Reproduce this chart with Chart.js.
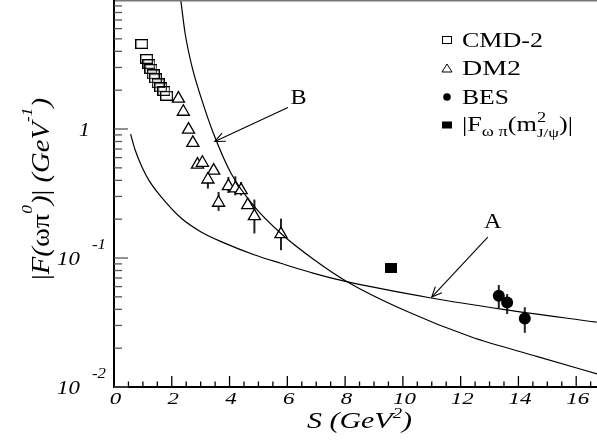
<!DOCTYPE html>
<html><head><meta charset="utf-8">
<script src="https://cdn.jsdelivr.net/npm/chart.js@4.4.1/dist/chart.umd.min.js"></script>
<style>html,body{margin:0;padding:0;background:#fff;overflow:hidden}#wrap{width:597px;height:443px;position:relative}</style>
</head><body><div id="wrap"><canvas id="c"></canvas></div>
<script>
// ---- data ----
const cmd2X = [0.96, 1.13, 1.21, 1.28, 1.36, 1.44, 1.53, 1.62, 1.73, 1.82];
const cmd2Y = [4.56, 3.49, 3.18, 2.92, 2.65, 2.47, 2.26, 2.10, 1.97, 1.81];

const dm2X  = [2.23, 2.40, 2.58, 2.73, 2.89, 3.06, 3.45, 3.25, 3.62, 3.96, 4.20, 4.40, 4.63, 4.86, 5.78];
const dm2Y  = [1.72, 1.36, 0.989, 0.781, 0.530, 0.547, 0.476, 0.406, 0.268, 0.361, 0.346, 0.336, 0.257, 0.211, 0.153];
const dm2Lo = [null, null, null, null, null, null, null, 0.345, 0.232, 0.319, 0.306, 0.305, 0.247, 0.155, 0.115];
const dm2Hi = [null, null, null, null, null, null, null, 0.46, 0.325, 0.425, 0.43, 0.388, 0.290, 0.284, 0.202];

const besX  = [13.32, 13.61, 14.22];
const besY  = [0.0509, 0.0452, 0.0340];
const besLo = [0.0408, 0.0368, 0.0263];
const besHi = [0.0618, 0.0525, 0.0415];

const jpsiX = [9.58];
const jpsiY = [0.0832];

const curveBX = [2.31, 2.46, 2.70, 3.04, 3.44, 4.05, 4.86, 5.78, 6.94, 8.07, 10.03, 12.35, 14.66, 16.74];
const curveBY = [10, 5.55, 3.04, 1.68, 0.926, 0.454, 0.250, 0.155, 0.0965, 0.0655, 0.0395, 0.0245, 0.0172, 0.0126];

const curveAX = [0.575, 0.72, 0.98, 1.21, 1.62, 2.31, 3.00, 3.81, 4.85, 5.77, 6.92, 8.05, 10.93, 13.47, 16.71];
const curveAY = [0.914, 0.70, 0.50, 0.40, 0.30, 0.205, 0.160, 0.131, 0.106, 0.091, 0.076, 0.0655, 0.0492, 0.0400, 0.0318];

const arrowA = [[12.94, 0.145], [11.00, 0.0498]];
const arrowB = [[6.02, 1.469], [3.49, 0.801]];
const labelA = [13.11, 0.1706];
const labelB = [6.39, 1.556];

const xMajorTicks = [0, 2, 4, 6, 8, 10, 12, 14, 16];
const xTickLabels = ['0', '2', '4', '6', '8', '10', '12', '14', '16'];
const xMinorTicks = [0.5,1,1.5,2.5,3,3.5,4.5,5,5.5,6.5,7,7.5,8.5,9,9.5,10.5,11,11.5,12.5,13,13.5,14.5,15,15.5,16.5];
const yMajorTicks = [0.01, 0.1, 1];
const yTickBase = ['10', '10', '1'];
const yTickExp  = ['-2', '-1', ''];
const yDecades = [0.01, 0.1, 1];
const yMinorMult = [2, 3, 4, 5, 6, 7, 8, 9];

const legendNames = ['CMD-2', 'DM2', 'BES'];

// ---- helpers ----
const pts = (xs, ys) => xs.map((x, i) => ({x: x, y: ys[i]}));
const SERIF = '"Liberation Serif", "Times New Roman", serif';
function fontOf(r, base) {
  return (r.it ? 'italic ' : '') + (r.size || base) + 'px ' + SERIF;
}
function drawRuns(ctx, runs, x, y, opt) {
  ctx.save();
  ctx.translate(x, y);
  if (opt.rotate) ctx.rotate(opt.rotate);
  const base = opt.size;
  let total = 0;
  const ws = runs.map(r => { ctx.font = fontOf(r, base); const w = ctx.measureText(r.t).width; if (!r.stay) total += w; return w; });
  const sx = opt.width ? opt.width / total : (opt.sx || 1);
  ctx.scale(sx, opt.sy || 1);
  let cx = opt.align === 'center' ? -total / 2 : 0;
  ctx.fillStyle = '#000';
  ctx.textBaseline = 'alphabetic';
  ctx.textAlign = 'left';
  runs.forEach((r, i) => { ctx.font = fontOf(r, base); ctx.fillText(r.t, cx, r.dy || 0); if (!r.stay) cx += ws[i]; });
  ctx.restore();
}
function makeRect(w, h, filled, lw) {
  const c = document.createElement('canvas');
  c.width = w; c.height = h;
  const g = c.getContext('2d');
  if (filled) { g.fillStyle = '#000'; g.fillRect(0, 0, w, h); }
  else { g.strokeStyle = '#000'; g.lineWidth = lw; g.strokeRect(lw / 2, lw / 2, w - lw, h - lw); }
  return c;
}
const openSq = makeRect(13, 10, false, 1.3);
const fillSq = makeRect(12, 10, true, 0);

function arrow(ctx, x0, y0, x1, y1) {
  ctx.beginPath(); ctx.moveTo(x0, y0); ctx.lineTo(x1, y1); ctx.stroke();
  const a = Math.atan2(y0 - y1, x0 - x1);
  const L = 11, s = 0.42;
  ctx.beginPath();
  ctx.moveTo(x1 + L * Math.cos(a + s), y1 + L * Math.sin(a + s));
  ctx.lineTo(x1, y1);
  ctx.lineTo(x1 + L * Math.cos(a - s), y1 + L * Math.sin(a - s));
  ctx.stroke();
}

const decor = {
  id: 'decor',
  beforeDatasetsDraw(chart) {
    const {ctx, scales: {x, y}} = chart;
    ctx.save();
    ctx.strokeStyle = '#222'; ctx.lineWidth = 2;
    const bars = (xs, lo, hi) => xs.forEach((v, i) => {
      if (lo[i] == null) return;
      const px = x.getPixelForValue(v);
      ctx.beginPath(); ctx.moveTo(px, y.getPixelForValue(hi[i])); ctx.lineTo(px, y.getPixelForValue(lo[i])); ctx.stroke();
    });
    bars(dm2X, dm2Lo, dm2Hi);
    bars(besX, besLo, besHi);
    ctx.restore();
  },
  afterDatasetsDraw(chart) {
    const {ctx, chartArea: a, scales: {x, y}} = chart;
    ctx.save();
    // frame
    ctx.strokeStyle = '#777'; ctx.lineWidth = 1.5;
    ctx.beginPath(); ctx.moveTo(a.left, a.top + 0.7); ctx.lineTo(a.right, a.top + 0.7); ctx.stroke();
    ctx.strokeStyle = '#000'; ctx.lineWidth = 2;
    ctx.beginPath(); ctx.moveTo(a.left, a.top); ctx.lineTo(a.left, a.bottom); ctx.lineTo(a.right, a.bottom); ctx.stroke();
    // x ticks (inside)
    ctx.lineWidth = 1.3;
    xMajorTicks.forEach(v => { const px = x.getPixelForValue(v); ctx.beginPath(); ctx.moveTo(px, a.bottom); ctx.lineTo(px, a.bottom - 11); ctx.stroke(); });
    xMinorTicks.forEach(v => { const px = x.getPixelForValue(v); ctx.beginPath(); ctx.moveTo(px, a.bottom); ctx.lineTo(px, a.bottom - 5.5); ctx.stroke(); });
    // y ticks (inside)
    ctx.strokeStyle = '#555';
    yMajorTicks.forEach(v => { const py = y.getPixelForValue(v); ctx.beginPath(); ctx.moveTo(a.left, py); ctx.lineTo(a.left + 14, py); ctx.stroke(); });
    yDecades.forEach(d => yMinorMult.forEach(m => { const py = y.getPixelForValue(d * m); ctx.beginPath(); ctx.moveTo(a.left, py); ctx.lineTo(a.left + 8, py); ctx.stroke(); }));
    // x tick labels
    xMajorTicks.forEach((v, i) => {
      drawRuns(ctx, [{t: xTickLabels[i], it: true}], x.getPixelForValue(v) + 1.5, a.bottom + 17, {size: 17, sx: 1.35, align: 'center'});
    });
    // y tick labels
    yMajorTicks.forEach((v, i) => {
      const py = y.getPixelForValue(v);
      if (yTickExp[i]) {
        drawRuns(ctx, [{t: yTickBase[i], it: true}], 57, py + 7, {size: 19, sx: 1.2});
        drawRuns(ctx, [{t: yTickExp[i], it: true}], 92, py - 9, {size: 14, sx: 1.2});
      } else {
        drawRuns(ctx, [{t: yTickBase[i], it: true}], 79, py + 7, {size: 18, sx: 1.2});
      }
    });
    // axis titles
    drawRuns(ctx, [{t: 'S (GeV', it: true}, {t: '2', it: true, size: 15, dy: -10}, {t: ')', it: true}],
      359.5, 428, {size: 24, width: 105, align: 'center'});
    drawRuns(ctx, [{t: '|', it: false}, {t: 'F(', it: true}, {t: '\u03c9\u03c0', it: false}, {t: '0', it: true, size: 15, dy: -17},
      {t: ')', it: true}, {t: '|', it: false}, {t: ' (', it: true}, {t: 'GeV', it: true}, {t: '-1', it: true, size: 15, dy: -17}, {t: ')', it: true}],
      48.5, 189, {size: 25, width: 182, align: 'center', rotate: -Math.PI / 2});
    // arrows and curve labels
    ctx.strokeStyle = '#000'; ctx.lineWidth = 1.1;
    [arrowA, arrowB].forEach(ar => arrow(ctx, x.getPixelForValue(ar[0][0]), y.getPixelForValue(ar[0][1]), x.getPixelForValue(ar[1][0]), y.getPixelForValue(ar[1][1])));
    drawRuns(ctx, [{t: 'A'}], x.getPixelForValue(labelA[0]), y.getPixelForValue(labelA[1]), {size: 21, sx: 1.15, align: 'center'});
    drawRuns(ctx, [{t: 'B'}], x.getPixelForValue(labelB[0]), y.getPixelForValue(labelB[1]), {size: 21, sx: 1.15, align: 'center'});
    // legend
    const lx = 447, ly = [40, 68.5, 97, 125];
    ctx.strokeStyle = '#000'; ctx.fillStyle = '#000'; ctx.lineWidth = 1;
    ctx.strokeRect(lx - 4.5, ly[0] - 3.5, 9, 7);
    ctx.beginPath(); ctx.moveTo(lx, ly[1] - 4.5); ctx.lineTo(lx + 5, ly[1] + 3.5); ctx.lineTo(lx - 5, ly[1] + 3.5); ctx.closePath(); ctx.stroke();
    ctx.beginPath(); ctx.arc(lx, ly[2], 3.8, 0, Math.PI * 2); ctx.fill();
    ctx.fillRect(lx - 5, ly[3] - 3.5, 10, 7);
    const tw = [81, 59, 47];
    legendNames.forEach((n, i) => drawRuns(ctx, [{t: n}], 462, ly[i] + 6.5, {size: 20, width: tw[i]}));
    drawRuns(ctx, [{t: '|F'}, {t: '\u03c9 \u03c0', size: 14, dy: 5}, {t: '(m'}, {t: '2', size: 14, dy: -9, stay: true}, {t: 'J/\u03c8', size: 13, dy: 6}, {t: ')|'}],
      462, ly[3] + 6, {size: 20, width: 111});
    ctx.restore();
  }
};

new Chart(document.getElementById('c'), {
  type: 'scatter',
  data: {
    datasets: [
      {label: 'B', type: 'line', data: pts(curveBX, curveBY), borderColor: '#000', borderWidth: 1.2, pointRadius: 0, fill: false, cubicInterpolationMode: 'monotone'},
      {label: 'A', type: 'line', data: pts(curveAX, curveAY), borderColor: '#000', borderWidth: 1.2, pointRadius: 0, fill: false, cubicInterpolationMode: 'monotone'},
      {label: 'CMD-2', data: pts(cmd2X, cmd2Y), pointStyle: openSq, pointRadius: 7},
      {label: 'DM2', data: pts(dm2X, dm2Y), pointStyle: 'triangle', pointRadius: 7, borderColor: '#000', borderWidth: 1.3, backgroundColor: '#fff'},
      {label: 'BES', data: pts(besX, besY), pointStyle: 'circle', pointRadius: 6, borderColor: '#000', borderWidth: 0, backgroundColor: '#000'},
      {label: 'Jpsi', data: pts(jpsiX, jpsiY), pointStyle: fillSq, pointRadius: 6}
    ]
  },
  options: {
    responsive: true, maintainAspectRatio: false, animation: false,
    layout: {autoPadding: false, padding: {left: 114, right: 0, top: 0, bottom: 56}},
    plugins: {legend: {display: false}, tooltip: {enabled: false}},
    events: [],
    scales: {
      x: {type: 'linear', min: 0, max: 16.72, display: false},
      y: {type: 'logarithmic', min: 0.01, max: 10, display: false}
    }
  },
  plugins: [decor]
});
</script></body></html>
